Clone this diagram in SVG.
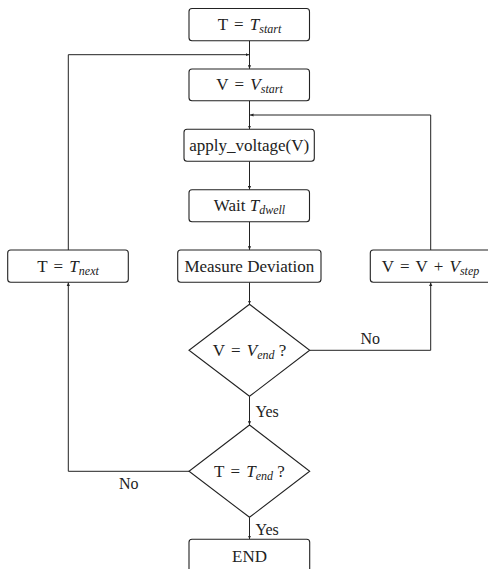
<svg xmlns="http://www.w3.org/2000/svg" width="488" height="569" viewBox="0 0 488 569">
<defs>
<style>
.box{fill:#fff;stroke:#222;stroke-width:1.1}
.t{font-family:"Liberation Serif",serif;font-size:17px;fill:#222}
.lbl{font-family:"Liberation Serif",serif;font-size:16px;fill:#222}
.it{font-style:italic}
.sub{font-style:italic;font-size:12px}
.c{fill:none;stroke:#222;stroke-width:1}
</style>
<marker id="ah" markerUnits="userSpaceOnUse" markerWidth="4" markerHeight="4" refX="3.5" refY="2" orient="auto">
<path d="M0,0.4 L3.5,2 L0,3.6 z" fill="#222"/>
</marker>
</defs>
<rect width="488" height="569" fill="#fff"/>
<g id="connectors">
<path class="c" marker-end="url(#ah)" d="M249.5,40.7 V68.8"/>
<path class="c" marker-end="url(#ah)" d="M68.3,250 V54.7 H249"/>
<path class="c" marker-end="url(#ah)" d="M249.5,100.7 V129.1"/>
<path class="c" marker-end="url(#ah)" d="M430.7,250 V115 H250"/>
<path class="c" marker-end="url(#ah)" d="M249.5,161.3 V189.5"/>
<path class="c" marker-end="url(#ah)" d="M249.5,221.7 V249.8"/>
<path class="c" marker-end="url(#ah)" d="M249.5,282.3 V304.1"/>
<path class="c" marker-end="url(#ah)" d="M309.7,350.3 H430.7 V282.5"/>
<path class="c" marker-end="url(#ah)" d="M249.5,396.3 V424.8"/>
<path class="c" marker-end="url(#ah)" d="M189,471.3 H68.3 V282.5"/>
<path class="c" marker-end="url(#ah)" d="M249.5,517.3 V539.1"/>
<text class="lbl" x="360.5" y="344">No</text>
<text class="lbl" x="255.5" y="416.5">Yes</text>
<text class="lbl" x="119" y="488.5">No</text>
<text class="lbl" x="255.5" y="535">Yes</text>
</g>
<g id="n-tstart">
<rect class="box" x="189" y="8.5" width="120.5" height="32.2" rx="3"/>
<text class="t" x="249.5" y="29.5" text-anchor="middle">T <tspan dx="2">=</tspan> <tspan dx="2" class="it">T</tspan><tspan class="sub" dy="3">start</tspan></text>
</g>
<g id="n-vstart">
<rect class="box" x="189" y="69" width="120.5" height="31.7" rx="3"/>
<text class="t" x="249.5" y="90" text-anchor="middle">V <tspan dx="2">=</tspan> <tspan dx="2" class="it">V</tspan><tspan class="sub" dy="3">start</tspan></text>
</g>
<g id="n-apply">
<rect class="box" x="184" y="129.3" width="130.3" height="32" rx="3"/>
<text class="t" x="249.2" y="151" text-anchor="middle">apply_voltage(V)</text>
</g>
<g id="n-wait">
<rect class="box" x="189" y="189.7" width="120.5" height="32" rx="3"/>
<text class="t" x="249.5" y="211" text-anchor="middle">Wait <tspan class="it">T</tspan><tspan class="sub" dy="3">dwell</tspan></text>
</g>
<g id="n-tnext">
<rect class="box" x="7.7" y="250" width="120.6" height="32.3" rx="3"/>
<text class="t" x="68" y="271.5" text-anchor="middle">T <tspan dx="2">=</tspan> <tspan dx="2" class="it">T</tspan><tspan class="sub" dy="3">next</tspan></text>
</g>
<g id="n-measure">
<rect class="box" x="177.7" y="250" width="143.3" height="32.3" rx="3"/>
<text class="t" x="249.3" y="271.5" text-anchor="middle">Measure Deviation</text>
</g>
<g id="n-vstep">
<rect class="box" x="370.3" y="250" width="121" height="32.3" rx="3"/>
<text class="t" x="430.5" y="271.5" text-anchor="middle">V <tspan dx="2">=</tspan> <tspan dx="2">V</tspan> <tspan dx="2">+</tspan> <tspan dx="2" class="it">V</tspan><tspan class="sub" dy="3">step</tspan></text>
</g>
<g id="n-vend">
<polygon class="box" points="249.5,304.3 309.7,350.3 249.5,396.3 189,350.3"/>
<text class="t" x="249.5" y="356" text-anchor="middle">V <tspan dx="2">=</tspan> <tspan dx="2" class="it">V</tspan><tspan class="sub" dy="3">end</tspan><tspan dy="-3"> ?</tspan></text>
</g>
<g id="n-tend">
<polygon class="box" points="249.5,425 309.7,471.3 249.5,517.3 189,471.3"/>
<text class="t" x="249.5" y="477" text-anchor="middle">T <tspan dx="2">=</tspan> <tspan dx="2" class="it">T</tspan><tspan class="sub" dy="3">end</tspan><tspan dy="-3"> ?</tspan></text>
</g>
<g id="n-end">
<rect class="box" x="189" y="539.3" width="120.7" height="36" rx="3"/>
<text class="t" x="249.5" y="561.5" text-anchor="middle">END</text>
</g>
</svg>
